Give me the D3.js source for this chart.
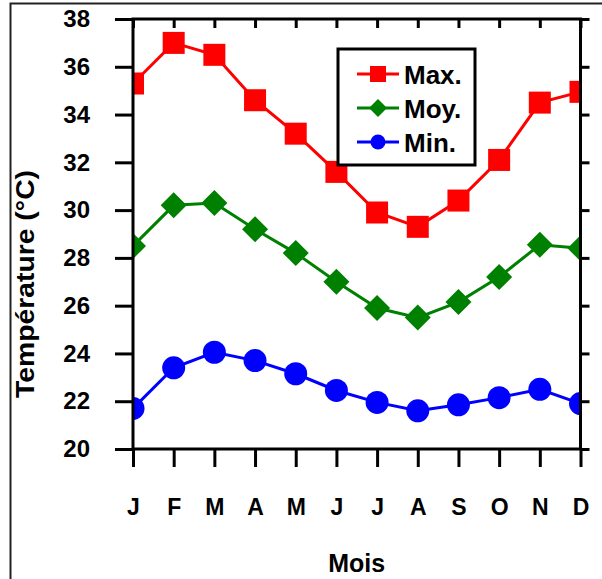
<!DOCTYPE html>
<html>
<head>
<meta charset="utf-8">
<script src="https://cdn.jsdelivr.net/npm/d3@7"></script>
<style>
  body { margin: 0; background: #fff; }
  svg { display: block; font-family: Arial, "Liberation Sans", sans-serif; }
</style>
</head>
<body>
<svg id="chart" width="602" height="579"></svg>
<script>
var months = ["J","F","M","A","M","J","J","A","S","O","N","D"];
var tMax = [35.3, 37.0, 36.5, 34.6, 33.2, 31.6, 29.9, 29.3, 30.4, 32.1, 34.5, 34.95];
var tMoy = [28.5, 30.2, 30.3, 29.2, 28.2, 27.0, 25.9, 25.5, 26.15, 27.2, 28.55, 28.4];
var tMin = [21.7, 23.4, 24.05, 23.7, 23.15, 22.45, 21.95, 21.6, 21.85, 22.15, 22.5, 21.9];
var yTicks = [20, 22, 24, 26, 28, 30, 32, 34, 36, 38];

var series = [
  {name: "Max.", values: tMax, color: "#ff0000", shape: "square"},
  {name: "Moy.", values: tMoy, color: "#008000", shape: "diamond"},
  {name: "Min.", values: tMin, color: "#0000ff", shape: "circle"}
];

var svg = d3.select("#chart");
var plotL = 133, plotR = 580.5, plotT = 19, plotB = 449;

// outer frame (only top and left edges are visible)
svg.append("path")
  .attr("d", "M10.5,579V3.5H602")
  .attr("fill", "none")
  .attr("stroke", "#222")
  .attr("stroke-width", 2);

var x = d3.scalePoint().domain(d3.range(12)).range([plotL, plotR]);
var y = d3.scaleLinear().domain([20, 38]).range([plotB, plotT]);

svg.append("defs").append("clipPath").attr("id", "plotclip")
  .append("rect")
  .attr("x", plotL).attr("y", plotT)
  .attr("width", plotR - plotL).attr("height", plotB - plotT);

var plot = svg.append("g").attr("clip-path", "url(#plotclip)");

var line = d3.line()
  .x(function(d, i){ return x(i); })
  .y(function(d){ return y(d); });

function drawMarker(g, shape, cx, cy, color){
  if (shape == "square") {
    g.append("rect")
      .attr("x", cx - 11).attr("y", cy - 11)
      .attr("width", 22).attr("height", 22)
      .attr("fill", color);
  } else if (shape == "diamond") {
    g.append("path")
      .attr("d", "M" + cx + "," + (cy - 13) + "L" + (cx + 13) + "," + cy +
                 "L" + cx + "," + (cy + 13) + "L" + (cx - 13) + "," + cy + "Z")
      .attr("fill", color);
  } else {
    g.append("circle")
      .attr("cx", cx).attr("cy", cy).attr("r", 11.5)
      .attr("fill", color);
  }
}

series.forEach(function(s){
  plot.append("path")
    .attr("d", line(s.values))
    .attr("fill", "none")
    .attr("stroke", s.color)
    .attr("stroke-width", 3);
  s.values.forEach(function(v, i){
    drawMarker(plot, s.shape, x(i), y(v), s.color);
  });
});

// axes
var axisL = svg.append("g").attr("transform", "translate(" + plotL + ",0)")
  .call(d3.axisLeft(y).tickValues(yTicks).tickSize(18).tickPadding(25).tickSizeOuter(0));
var axisR = svg.append("g").attr("transform", "translate(" + plotR + ",0)")
  .call(d3.axisLeft(y).tickValues(yTicks).tickSize(-9).tickFormat("").tickSizeOuter(0));
var axisB = svg.append("g").attr("transform", "translate(0," + plotB + ")")
  .call(d3.axisBottom(x).tickSize(18).tickPadding(32).tickSizeOuter(0)
    .tickFormat(function(d){ return months[d]; }));
var axisT = svg.append("g").attr("transform", "translate(0," + plotT + ")")
  .call(d3.axisTop(x).tickSize(-9).tickFormat("").tickSizeOuter(0));

[axisL, axisR, axisB, axisT].forEach(function(a){
  a.selectAll(".domain").remove();
  a.selectAll("line").attr("stroke", "#000").attr("stroke-width", 3);
  a.selectAll("text")
    .attr("fill", "#000")
    .style("font-size", "24px")
    .style("font-weight", "bold")
    .style("font-family", "Arial, 'Liberation Sans', sans-serif");
});
axisB.selectAll("text").style("font-size", "23px");

// plot border
svg.append("rect")
  .attr("x", plotL).attr("y", plotT)
  .attr("width", plotR - plotL).attr("height", plotB - plotT)
  .attr("fill", "none")
  .attr("stroke", "#000")
  .attr("stroke-width", 3);

// axis titles
svg.append("text")
  .attr("transform", "translate(34,284) rotate(-90)")
  .attr("text-anchor", "middle")
  .attr("textLength", 228)
  .attr("lengthAdjust", "spacingAndGlyphs")
  .style("font-size", "25px")
  .style("font-weight", "bold")
  .text("Température (°C)");

svg.append("text")
  .attr("x", (plotL + plotR) / 2)
  .attr("y", 572)
  .attr("text-anchor", "middle")
  .style("font-size", "25px")
  .style("font-weight", "bold")
  .text("Mois");

// legend
var legend = svg.append("g");
legend.append("rect")
  .attr("x", 338).attr("y", 49)
  .attr("width", 137).attr("height", 116)
  .attr("fill", "#fff")
  .attr("stroke", "#000")
  .attr("stroke-width", 3);

series.forEach(function(s, i){
  var ly = 74 + i * 34;
  legend.append("line")
    .attr("x1", 357).attr("x2", 399)
    .attr("y1", ly).attr("y2", ly)
    .attr("stroke", s.color)
    .attr("stroke-width", 3);
  var g = legend.append("g");
  if (s.shape == "square") {
    g.append("rect").attr("x", 370).attr("y", ly - 8).attr("width", 16).attr("height", 16).attr("fill", s.color);
  } else if (s.shape == "diamond") {
    g.append("path").attr("d", "M378," + (ly - 9) + "L387," + ly + "L378," + (ly + 9) + "L369," + ly + "Z").attr("fill", s.color);
  } else {
    g.append("circle").attr("cx", 378).attr("cy", ly).attr("r", 7.5).attr("fill", s.color);
  }
  legend.append("text")
    .attr("x", 404).attr("y", ly + 10)
    .style("font-size", "26px")
    .style("font-weight", "bold")
    .text(s.name);
});
</script>
</body>
</html>
